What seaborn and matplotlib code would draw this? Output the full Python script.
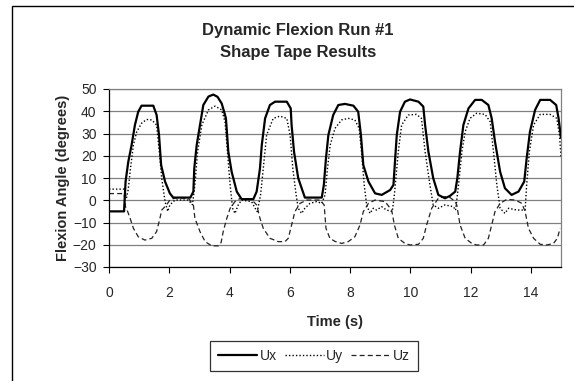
import matplotlib
matplotlib.use("Agg")
import matplotlib.pyplot as plt
import seaborn as sns
from matplotlib.patches import Rectangle

# ---- data ----
ux_t = [0, 0.5, 0.55, 0.64, 0.75, 0.86, 0.97, 1.08, 1.47, 1.58, 1.66, 1.73, 1.86, 2.02, 2.13,
        2.7, 2.8, 2.83, 2.91, 3.02, 3.13, 3.30, 3.46, 3.6, 3.74, 3.82, 3.88, 3.96, 4.07, 4.24,
        4.40, 4.79, 4.90, 5.01, 5.07, 5.18, 5.34, 5.51, 5.9, 6.03, 6.06, 6.14, 6.28, 6.50,
        7.06, 7.13, 7.2, 7.28, 7.44, 7.61, 7.83, 8.11, 8.27, 8.36, 8.44, 8.61, 8.83, 9.05,
        9.33, 9.44, 9.49, 9.55, 9.66, 9.82, 9.99, 10.27, 10.43, 10.49, 10.60, 10.76, 10.93,
        11.15, 11.32, 11.49, 11.56, 11.65, 11.76, 11.93, 12.15, 12.37, 12.59, 12.70, 12.81,
        12.98, 13.14, 13.36, 13.59, 13.78, 13.86, 13.97, 14.14, 14.31, 14.64, 14.84, 14.92, 15.0]
ux = [-5, -5, 8.4, 17.3, 24.8, 33.8, 39.8, 42.5, 42.5, 38.3, 29.3, 15.8, 8.4, 3.1, 1.2,
      1.2, 3.9, 14.3, 24.8, 33.8, 42.8, 46.6, 47.5, 46.5, 43.5, 39.8, 36.8, 21.8, 12.8, 3.9,
      0.5, 0.5, 3.9, 14.3, 24.8, 36.8, 42.8, 44.3, 44.3, 41.3, 33.8, 21.8, 9.9, 1.2,
      1.2, 6.9, 18.8, 29.3, 38.3, 42.8, 43.3, 42.5, 39.8, 29.3, 15.8, 8.4, 3.1, 2.4,
      4.6, 6.9, 17.3, 29.3, 39.8, 44.3, 45.3, 44.3, 42.1, 33.8, 21.8, 9.9, 2.4,
      0.9, 2.0, 3.9, 9.9, 21.8, 33.8, 41.3, 45.1, 45.1, 42.8, 36.8, 26.3,
      12.8, 5.4, 2.4, 3.9, 8.4, 18.8, 30.8, 40.6, 45.1, 45.1, 42.8, 36.8, 28.0]

uy_t = [0, 0.5, 0.58, 0.64, 0.70, 0.81, 0.92, 1.08, 1.25, 1.42, 1.58, 1.67, 1.75, 1.86, 1.95,
        2.02, 2.19, 2.63, 2.77, 2.85, 2.94, 3.08, 3.30, 3.52, 3.74, 3.85, 3.93, 4.02, 4.10,
        4.18, 4.29, 4.4, 4.73, 4.85, 4.92, 5.03, 5.12, 5.23, 5.45, 5.67, 5.9, 6.01, 6.1, 6.21,
        6.28, 6.39, 6.5, 6.67, 6.89, 7.06, 7.17, 7.25, 7.34, 7.5, 7.72, 7.94, 8.16, 8.3, 8.38,
        8.47, 8.55, 8.66, 8.77, 8.88, 9.05, 9.21, 9.4, 9.47, 9.6, 9.71, 9.93, 10.2, 10.37,
        10.49, 10.65, 10.76, 10.93, 11.15, 11.43, 11.5, 11.6, 11.71, 11.82, 11.98, 12.2,
        12.48, 12.65, 12.76, 12.87, 12.98, 13.14, 13.26, 13.53, 13.81, 13.86, 13.95, 14.09,
        14.31, 14.64, 14.86, 14.95, 15.0]
uy = [5, 5, 1, 5, 12.8, 24.8, 30.8, 34.6, 36.3, 36.1, 33.8, 21.8, 9.9, -0.6, -5,
      -2.1, 0.1, 0.1, -2, 6.9, 21.8, 33.8, 40.6, 42.3, 40.6, 35.3, 21.8, 6.9, -3.6,
      -5.9, -2.1, 0.1, -0.6, -3.6, -5.1, 2.4, 14.3, 29.3, 36.8, 37.8, 36.8, 29.3, 14.3, 2.4,
      -3.6, -5.9, -3.6, -1.4, -0.6, -1.4, 2.4, 14.3, 24.8, 32.3, 36.1, 36.8, 36.1, 32.3, 21.8,
      6.9, -2.1, -5.9, -3.6, -4.4, -2.9, -4.4, -5.1, 2.4, 21.8, 33.8, 38.3, 38.6, 36.8,
      21.8, 6.9, -2.1, -3.6, -2.1, -2.9, -4.5, 6.9, 21.8, 30.8, 36.8, 39.1,
      38.6, 35.3, 21.8, 6.9, -3.6, -5.9, -3.6, -4.4, -4.4, 6.9, 21.8, 33.8,
      38.6, 38.6, 36.8, 29.3, 19.6]

uz_t = [0, 0.5, 0.55, 0.62, 0.70, 0.81, 0.97, 1.19, 1.42, 1.58, 1.69, 1.75, 1.91, 2.02, 2.19,
        2.63, 2.8, 2.85, 3.02, 3.19, 3.41, 3.63, 3.72, 3.79, 3.91, 4.02, 4.18, 4.35, 4.73,
        4.9, 5.01, 5.12, 5.34, 5.62, 5.84, 5.95, 6.06, 6.17, 6.34, 6.56, 7.0, 7.14, 7.2, 7.33,
        7.5, 7.72, 7.94, 8.16, 8.33, 8.44, 8.61, 8.83, 9.16, 9.38, 9.47, 9.6, 9.82, 9.99,
        10.27, 10.43, 10.54, 10.71, 10.93, 11.15, 11.32, 11.48, 11.54, 11.65, 11.82, 12.04,
        12.2, 12.43, 12.59, 12.7, 12.81, 12.98, 13.2, 13.48, 13.7, 13.81, 13.92, 14.09, 14.31,
        14.53, 14.75, 14.88, 14.97]
uz = [3, 3, -3, -5.1, -8.1, -12.6, -16.4, -17.9, -17.1, -14.1, -8.1, -4.4, -2.1, 0.1, 1.0,
      1.0, -2.1, -8.1, -14.1, -18.6, -20.5, -20.5, -19, -14.1, -8.1, -3.6, -0.6, 0.8, 0.3,
      -2.1, -8.1, -12.6, -17.1, -18.6, -18.6, -17.1, -11.1, -5.1, -1.4, 0.1, 0.1, -2.1, -12.6, -17.1,
      -18.5, -19.4, -18.6, -16.4, -11.1, -5.1, -1.4, 0.1, -0.6, -4.4, -11.1, -17.1, -19.4, -20.1,
      -19.8, -17.1, -11.1, -3.6, 0.9, 1.6, 1.2, -0.5, -2.1, -11.1, -17.1, -19.4,
      -20.1, -20.1, -17.1, -11.1, -5.1, -1.4, 0.4, 0.1, -1.4, -5.1, -12.6, -17.1, -19.8,
      -20.1, -19.4, -17.1, -12.6]

series_names = ["Ux", "Uy", "Uz"]
y_ticks = [-30, -20, -10, 0, 10, 20, 30, 40, 50]
x_ticks = [0, 2, 4, 6, 8, 10, 12, 14]

sns.set_theme(style="white")
plt.rcParams["font.family"] = ["Liberation Sans", "DejaVu Sans"]

fig = plt.figure(figsize=(5.74, 3.81), dpi=100)
ax = fig.add_axes([109/574, 1-267/381, (561-109)/574, (267-89)/381])

for yv in y_ticks:
    ax.axhline(yv, color="#808080", lw=0.9, zorder=0)

sns.lineplot(x=ux_t, y=ux, ax=ax, color="black", lw=1.6, estimator=None,
             label=series_names[0], zorder=3)
sns.lineplot(x=uy_t, y=uy, ax=ax, color="black", lw=1.0, estimator=None,
             label=series_names[1], zorder=2)
sns.lineplot(x=uz_t, y=uz, ax=ax, color="#222222", lw=0.9, estimator=None,
             label=series_names[2], zorder=2)
lines = ax.get_lines()
data_lines = [l for l in lines if l.get_label() in series_names]
for l in data_lines:
    if l.get_label() == "Uy":
        l.set_linestyle((0, (1, 1.5)))
    elif l.get_label() == "Uz":
        l.set_linestyle((0, (4, 2.5)))

ax.set_xlim(0, 15)
ax.set_ylim(-30, 50)
ax.set_xticks(x_ticks)
ax.set_yticks(y_ticks)
ax.tick_params(axis="both", direction="out", length=4, width=0.8, color="black",
               labelsize=10, bottom=True, left=True)
ax.tick_params(axis="x", pad=9.5)
ax.tick_params(axis="y", pad=5)
for s in ["top", "right"]:
    ax.spines[s].set_color("#808080")
    ax.spines[s].set_linewidth(0.9)
for s in ["left", "bottom"]:
    ax.spines[s].set_color("black")
    ax.spines[s].set_linewidth(0.9)

ax.set_xlabel("Time (s)", fontsize=10.5, fontweight="bold")
ax.set_ylabel("Flexion Angle (degrees)", fontsize=10.5, fontweight="bold")
ax.xaxis.set_label_coords(0.5, -0.268)
ax.yaxis.set_label_coords(-0.086, 0.5)

ax.get_legend().remove()
handles = data_lines
leg = fig.legend(handles, series_names, loc="center", ncol=3,
                 bbox_to_anchor=(314/574, 1-356/381), frameon=True, fancybox=False,
                 fontsize=10, handlelength=2.8, handletextpad=0.2, columnspacing=0.55,
                 borderpad=0.6, borderaxespad=0)
leg.get_frame().set_edgecolor("black")
leg.get_frame().set_linewidth(0.9)

fig.text(298/574, 1-30/381, "Dynamic Flexion Run #1", ha="center", va="center",
         fontsize=12, fontweight="bold")
fig.text(298/574, 1-52/381, "Shape Tape Results", ha="center", va="center",
         fontsize=12, fontweight="bold")

fig.patches.append(Rectangle((12/574, -0.1), 1.2, 1 + 0.1 - 5.5/381,
                             transform=fig.transFigure, fill=False,
                             edgecolor="black", lw=1.0))

fig.savefig("out.png", dpi=100)
